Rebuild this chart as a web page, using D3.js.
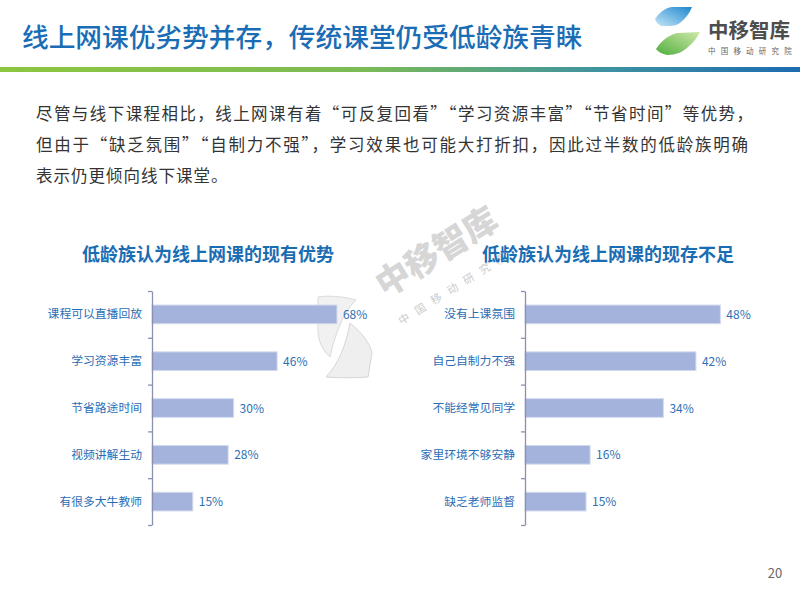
<!DOCTYPE html>
<html>
<head>
<meta charset="utf-8">
<script src="https://cdn.jsdelivr.net/npm/d3@7"></script>
<style>
  body { margin: 0; background: #fff; }
  svg { font-family: "Noto Sans CJK SC", "Noto Sans", sans-serif; }
</style>
</head>
<body>
<div id="slide"></div>
<script>
// chart data
const advCategories = ['课程可以直播回放', '学习资源丰富', '节省路途时间', '视频讲解生动', '有很多大牛教师'];
const advValues = [68, 46, 30, 28, 15];
const disCategories = ['没有上课氛围', '自己自制力不强', '不能经常见同学', '家里环境不够安静', '缺乏老师监督'];
const disValues = [48, 42, 34, 16, 15];
const pageTitle = '线上网课优劣势并存，传统课堂仍受低龄族青睐';
const paragraph = [
    '尽管与线下课程相比，线上网课有着“可反复回看”“学习资源丰富”“节省时间”等优势，',
    '但由于“缺乏氛围”“自制力不强”，学习效果也可能大打折扣，因此过半数的低龄族明确',
    '表示仍更倾向线下课堂。'
];
// line widths (last line is not justified)
const paragraphWidths = [717, 712, null];

const W = 800, H = 600;
const svg = d3.select('#slide').append('svg').attr('width', W).attr('height', H);
const defs = svg.append('defs');

// header rule gradient
let lg = defs.append('linearGradient').attr('id', 'rule');
[['0', '#8cc63f'], ['0.45', '#7cbb55'], ['0.75', '#3f93a0'], ['1', '#1d6cb1']]
    .forEach(s => lg.append('stop').attr('offset', s[0]).attr('stop-color', s[1]));
let gb = defs.append('linearGradient').attr('id', 'logoBlue').attr('x1', 0).attr('x2', 1).attr('y1', 1).attr('y2', 0);
gb.append('stop').attr('offset', 0).attr('stop-color', '#c4e6f7');
gb.append('stop').attr('offset', 1).attr('stop-color', '#1f86cf');
let gg = defs.append('linearGradient').attr('id', 'logoGreen').attr('x1', 0).attr('x2', 1).attr('y1', 1).attr('y2', 0);
gg.append('stop').attr('offset', 0).attr('stop-color', '#4fae3f');
gg.append('stop').attr('offset', 1).attr('stop-color', '#cfe9a8');

svg.append('rect').attr('x', 0).attr('y', 67).attr('width', W).attr('height', 5).attr('fill', 'url(#rule)');

svg.append('text').attr('x', 22).attr('y', 47)
    .attr('font-size', 26.7).attr('font-weight', 500).attr('fill', '#1a6db4')
    .text(pageTitle);

// logo
let logo = svg.append('g');
logo.append('path')
    .attr('d', 'M655,19 C660,12 665,8 672,7 L692,7 C690,12 686,18 681,22 C678,25 674,26 668,26 L661,26 C658,24 656,22 655,19 Z')
    .attr('fill', 'url(#logoBlue)');
logo.append('path')
    .attr('d', 'M656,49 C662,40 670,34 678,33 L700,32 C697,38 693,43 688,47 C683,52 676,55 667,55 C662,54 658,52 656,49 Z')
    .attr('fill', 'url(#logoGreen)');
logo.append('text').attr('x', 708).attr('y', 38).attr('font-size', 20.5).attr('font-weight', 700)
    .attr('fill', '#4d4d4d').text('中移智库');
logo.append('text').attr('x', 708).attr('y', 54).attr('font-size', 7.5)
    .attr('fill', '#666').attr('letter-spacing', 5.2).text('中国移动研究院');

// paragraph
svg.append('g').selectAll('text').data(paragraph).join('text')
    .attr('x', 36).attr('y', (d, i) => 120 + i * 31)
    .attr('font-size', 16.5).attr('fill', '#333')
    .each(function(d, i) {
        let t = d3.select(this).text(d);
        if (paragraphWidths[i]) t.attr('textLength', paragraphWidths[i]).attr('lengthAdjust', 'spacing');
        else t.attr('letter-spacing', 1);
    });

// watermark
let wm = svg.append('g');
wm.append('text').attr('transform', 'translate(443,262) rotate(-32)')
    .attr('text-anchor', 'middle').attr('font-size', 34).attr('font-weight', 900)
    .attr('fill', '#cfcfcf').attr('opacity', 0.85).text('中移智库');
wm.append('text').attr('transform', 'translate(458,290) rotate(-32)')
    .attr('text-anchor', 'middle').attr('font-size', 11).attr('letter-spacing', 8)
    .attr('fill', '#cccccc').text('中国移动研究院');
wm.append('path').attr('d', 'M318,297 C330,295 345,297 356,300 C345,310 336,330 330,357 C322,350 318,340 318,330 Z')
    .attr('fill', '#f1f1f1').attr('stroke', '#dadada');
wm.append('path').attr('d', 'M350,323 C362,333 370,343 372,353 L368,377 C355,378 340,378 326,377 C338,365 346,345 350,323 Z')
    .attr('fill', '#efefef').attr('stroke', '#d6d6d6');

function barChart(cats, vals, axisX, xMax, xRange, titleX, title) {
    let g = svg.append('g');
    let yB = d3.scaleBand().domain(cats).range([291, 525]);
    let yTicks = d3.scaleLinear().domain([0, cats.length]).range([291, 525]);
    let x = d3.scaleLinear().domain([0, xMax]).range([axisX, axisX + xRange]);

    g.append('text').attr('x', titleX).attr('y', 261).attr('text-anchor', 'middle')
        .attr('font-size', 18).attr('font-weight', 700).attr('fill', '#1b6db3')
        .text(title);

    let bw = yB.bandwidth();
    g.selectAll('rect').data(cats).join('rect')
        .attr('x', axisX)
        .attr('y', d => yB(d) + bw * 0.3)
        .attr('width', (d, i) => x(vals[i]) - axisX)
        .attr('height', bw * 0.4)
        .attr('fill', '#a3b3dc').attr('stroke', '#d3dbef').attr('stroke-width', 1);

    g.selectAll('.val').data(cats).join('text').attr('class', 'val')
        .attr('x', (d, i) => x(vals[i]) + 6)
        .attr('y', d => yB(d) + bw / 2 + 4.5)
        .attr('font-size', 12).attr('fill', '#2e6fb4')
        .text((d, i) => vals[i] + '%');

    g.selectAll('.cat').data(cats).join('text').attr('class', 'cat')
        .attr('x', axisX - 10)
        .attr('y', d => yB(d) + bw / 2 + 4)
        .attr('text-anchor', 'end')
        .attr('font-size', 11.8).attr('fill', '#2b6db5')
        .text(d => d);

    let ax = g.append('g').attr('transform', `translate(${axisX},0)`)
        .call(d3.axisLeft(yTicks).tickValues(d3.range(cats.length + 1)).tickFormat('').tickSize(4).tickSizeOuter(0));
    ax.selectAll('path, line').attr('stroke', '#8a90b0').attr('stroke-width', 1.3);
}

barChart(advCategories, advValues, 152, 100, 272, 208, '低龄族认为线上网课的现有优势');
barChart(disCategories, disValues, 525, 50, 203.5, 608, '低龄族认为线上网课的现存不足');

svg.append('text').attr('x', 775).attr('y', 578).attr('text-anchor', 'middle')
    .attr('font-size', 13).attr('fill', '#666').text('20');
</script>
</body>
</html>
